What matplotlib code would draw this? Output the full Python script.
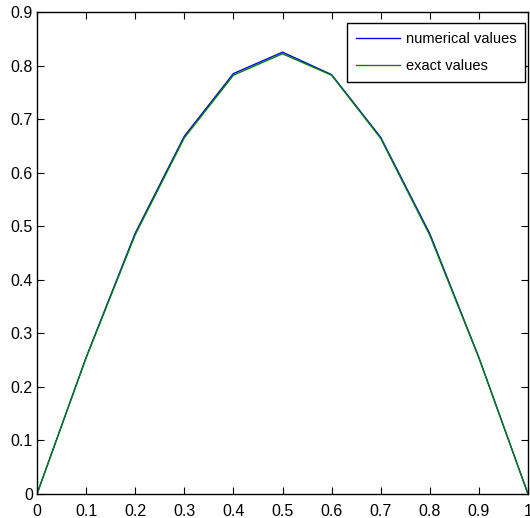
import matplotlib
matplotlib.use("Agg")
import matplotlib.pyplot as plt

x = [0.0, 0.1, 0.2, 0.3, 0.4, 0.5, 0.6, 0.7, 0.8, 0.9, 1.0]
numerical = [0.0, 0.255, 0.487, 0.668, 0.785, 0.825, 0.783, 0.666, 0.486, 0.255, 0.0]
exact = [0.0, 0.254, 0.484, 0.665, 0.782, 0.822, 0.782, 0.664, 0.483, 0.254, 0.0]
xticks = [0, 0.1, 0.2, 0.3, 0.4, 0.5, 0.6, 0.7, 0.8, 0.9, 1]
xticklabels = ["0", "0.1", "0.2", "0.3", "0.4", "0.5", "0.6", "0.7", "0.8", "0.9", "1"]
yticks = [0, 0.1, 0.2, 0.3, 0.4, 0.5, 0.6, 0.7, 0.8, 0.9]
yticklabels = ["0", "0.1", "0.2", "0.3", "0.4", "0.5", "0.6", "0.7", "0.8", "0.9"]

plt.rcParams["font.family"] = ["Liberation Sans", "DejaVu Sans"]

fig = plt.figure(figsize=(5.30, 5.18), dpi=100)
ax = fig.add_axes([37 / 530, 24 / 518, 491 / 530, 482 / 518])

ax.plot(x, numerical, color="#0000ff", lw=1.0, label="numerical values")
ax.plot(x, exact, color="#008000", lw=1.0, label="exact values")

ax.set_xlim(0, 1)
ax.set_ylim(0, 0.9)
ax.set_xticks(xticks)
ax.set_xticklabels(xticklabels)
ax.set_yticks(yticks)
ax.set_yticklabels(yticklabels)
ax.tick_params(direction="in", length=5, width=0.8, top=True, right=True,
               labelsize=11.5)
ax.tick_params(axis="x", pad=7)
ax.tick_params(axis="y", pad=3)
for s in ax.spines.values():
    s.set_linewidth(1.0)

leg = ax.legend(loc="upper right", bbox_to_anchor=(488 / 491, 471 / 482),
                fontsize=10.5, frameon=True, fancybox=False, edgecolor="black",
                framealpha=1, handlelength=3.0, handletextpad=0.4,
                borderpad=0.6, labelspacing=0.9, borderaxespad=0)
leg.get_frame().set_linewidth(1.0)

fig.savefig("out.png", dpi=100)
